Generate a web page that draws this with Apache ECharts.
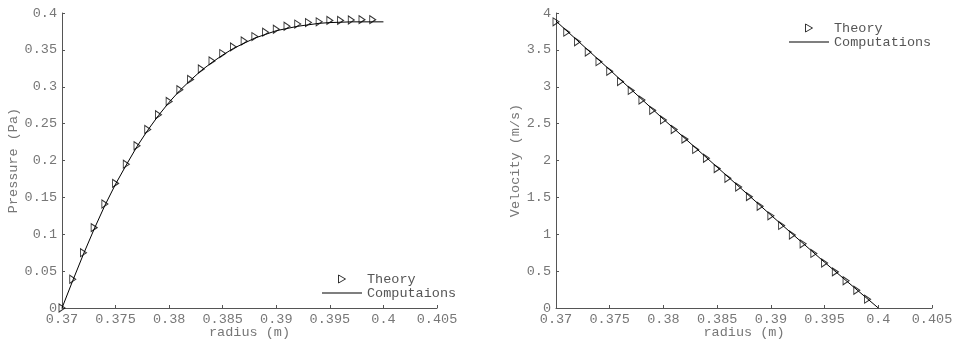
<!DOCTYPE html>
<html>
<head>
<meta charset="utf-8">
<script src="https://cdn.jsdelivr.net/npm/echarts@6/dist/echarts.min.js"></script>
<style>
  html, body { margin: 0; padding: 0; background: #fff; }
  #chart { width: 954px; height: 343px; }
</style>
</head>
<body>
<div id="chart"></div>
<script>
// radius samples (m)
const THEORY_R = [0.370, 0.371, 0.372, 0.373, 0.374, 0.375, 0.376, 0.377, 0.378, 0.379,
  0.380, 0.381, 0.382, 0.383, 0.384, 0.385, 0.386, 0.387, 0.388, 0.389,
  0.390, 0.391, 0.392, 0.393, 0.394, 0.395, 0.396, 0.397, 0.398, 0.399]
const PRESSURE_THEORY = [0, 0.039, 0.075, 0.109, 0.141, 0.169, 0.195, 0.220, 0.242, 0.262,
  0.280, 0.296, 0.310, 0.324, 0.335, 0.345, 0.354, 0.362, 0.368, 0.374,
  0.378, 0.382, 0.385, 0.387, 0.388, 0.390, 0.390, 0.3905, 0.391, 0.391]
const COMP_R = [0.370, 0.371, 0.372, 0.373, 0.374, 0.375, 0.376, 0.377, 0.378, 0.379,
  0.380, 0.381, 0.382, 0.383, 0.384, 0.385, 0.386, 0.387, 0.388, 0.389,
  0.390, 0.391, 0.392, 0.393, 0.394, 0.395, 0.396, 0.397, 0.398, 0.399, 0.400]
const PRESSURE_COMP = [0, 0.037, 0.073, 0.107, 0.139, 0.168, 0.194, 0.219, 0.241, 0.261,
  0.279, 0.295, 0.309, 0.322, 0.333, 0.343, 0.352, 0.359, 0.366, 0.371,
  0.376, 0.379, 0.382, 0.384, 0.386, 0.387, 0.3875, 0.388, 0.388, 0.388, 0.388]
const VELOCITY_THEORY = [3.88, 3.74, 3.61, 3.47, 3.34, 3.21, 3.07, 2.95, 2.82, 2.68,
  2.55, 2.42, 2.29, 2.15, 2.03, 1.89, 1.76, 1.64, 1.51, 1.38,
  1.25, 1.12, 0.99, 0.87, 0.74, 0.61, 0.49, 0.37, 0.24, 0.12]
const VEL_COMP_R = [0.370, 0.375, 0.380, 0.385, 0.390, 0.395, 0.400]
const VELOCITY_COMP = [3.89, 3.23, 2.56, 1.91, 1.26, 0.62, 0.0]

const FONT = "'Liberation Mono', 'Courier New', monospace"
const LABEL = '#777'
const AXIS = '#555'

const zip = (xs, ys) => xs.map((x, i) => [x, ys[i]])
const trim = (d) => (v) => String(+v.toFixed(d))

// legend glyphs: open right-pointing triangle, thin solid line
const TRI_ICON = 'path://M0,0 L7,4 L0,8 Z'
const LINE_ICON = 'path://M0,0 L40,0 L40,1 L0,1 Z'

function xAxis(gridIndex) {
  return {
    type: 'value', gridIndex, min: 0.37, max: 0.405, interval: 0.005,
    name: 'radius (m)', nameLocation: 'middle', nameGap: 17, nameMoveOverlap: false,
    nameTextStyle: { color: LABEL, fontFamily: FONT, fontSize: 13.5 },
    axisLine: { lineStyle: { color: AXIS, width: 1 } },
    axisTick: { inside: true, length: 3, lineStyle: { color: AXIS } },
    axisLabel: { color: LABEL, fontFamily: FONT, fontSize: 13.5, margin: 4, formatter: trim(3) },
    splitLine: { show: false },
  }
}

function yAxis(gridIndex, max, interval, name, gap, digits) {
  return {
    type: 'value', gridIndex, min: 0, max, interval,
    name, nameLocation: 'middle', nameGap: gap,
    nameTextStyle: { color: LABEL, fontFamily: FONT, fontSize: 13.5 },
    axisLine: { show: true, lineStyle: { color: AXIS, width: 1 } },
    axisTick: { show: true, inside: true, length: 3, lineStyle: { color: AXIS } },
    axisLabel: { color: LABEL, fontFamily: FONT, fontSize: 13.5, margin: 5, formatter: trim(digits) },
    splitLine: { show: false },
  }
}

function theory(name, idx, data) {
  return {
    name, type: 'scatter', xAxisIndex: idx, yAxisIndex: idx, data,
    symbol: 'triangle', symbolRotate: -90, symbolSize: [8, 6],
    itemStyle: { color: 'rgba(255,255,255,0)', borderColor: '#000', borderWidth: 1 },
    z: 3,
  }
}

function comp(name, idx, data) {
  return {
    name, type: 'line', xAxisIndex: idx, yAxisIndex: idx, data,
    symbol: 'none', lineStyle: { color: '#000', width: 1 }, itemStyle: { color: '#000' },
    z: 2,
  }
}

function legend(names, left, top) {
  return {
    data: [
      { name: names[0], icon: TRI_ICON, itemStyle: { color: 'rgba(255,255,255,0)', borderColor: '#000', borderWidth: 1 } },
      { name: names[1], icon: LINE_ICON, itemStyle: { color: '#000', borderWidth: 0 } },
    ],
    orient: 'vertical', left, top,
    itemWidth: 40, itemHeight: 8, itemGap: 0, symbolRotate: 0,
    textStyle: { color: '#555', fontFamily: FONT, fontSize: 13.5 },
    padding: 0, selectedMode: false,
  }
}

const chart = echarts.init(document.getElementById('chart'))
chart.setOption({
  animation: false,
  grid: [
    { left: 62, top: 13, width: 375, height: 295, outerBoundsMode: 'none' },
    { left: 556, top: 13, width: 376, height: 295, outerBoundsMode: 'none' },
  ],
  xAxis: [xAxis(0), xAxis(1)],
  yAxis: [
    yAxis(0, 0.4, 0.05, 'Pressure (Pa)', 40, 2),
    yAxis(1, 4, 0.5, 'Velocity (m/s)', 30, 1),
  ],
  legend: [
    legend(['Theory', 'Computaions'], 322, 272),
    legend(['Theory ', 'Computations'], 789, 21),
  ],
  series: [
    theory('Theory', 0, zip(THEORY_R, PRESSURE_THEORY)),
    comp('Computaions', 0, zip(COMP_R, PRESSURE_COMP)),
    theory('Theory ', 1, zip(THEORY_R, VELOCITY_THEORY)),
    comp('Computations', 1, zip(VEL_COMP_R, VELOCITY_COMP)),
  ],
})
</script>
</body>
</html>
